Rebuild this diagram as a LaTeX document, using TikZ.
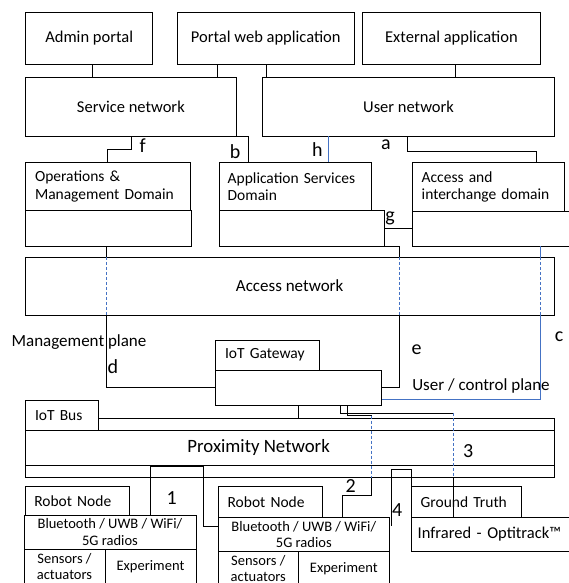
\documentclass[tikz,border=0pt]{standalone}
\usepackage{fontspec}
\setmainfont{Carlito}
\definecolor{lnblue}{RGB}{68,114,196}
\begin{document}
\begin{tikzpicture}[x=1pt,y=-1pt,
  box/.style={draw, line width=0.8pt, inner sep=0pt, align=center},
  wh/.style 2 args={minimum width=#1pt, minimum height=#2pt},
  fA/.style={font=\fontsize{16.5}{19}\selectfont},
  fN/.style={font=\fontsize{17}{19}\selectfont},
  fP/.style={font=\fontsize{18.8}{21}\selectfont},
  fB/.style={font=\fontsize{15.5}{17.5}\selectfont},
  fC/.style={font=\fontsize{14.5}{16.2}\selectfont},
  lbl/.style={font=\fontsize{20}{22}\selectfont, inner sep=0pt},
  conn/.style={line width=0.8pt},
  bconn/.style={line width=0.8pt, draw=lnblue},
  bdash/.style={line width=0.8pt, draw=lnblue, dash pattern=on 3pt off 2pt},
]
\useasboundingbox (0,0) rectangle (569,583);
\clip (0,0) rectangle (569,583);

% top row
\node[box,fA,wh={127}{51.6}] (admin) at (89.2,38.5) {Admin portal};
\node[box,fA,wh={177}{51.6}] (portal) at (265.8,38.5) {Portal web application};
\node[box,fA,wh={178.4}{51.6}] (ext) at (451.5,38.5) {External application};
\node[box,fA,wh={210.3}{58.7}] (svc) at (130.85,106.65) {Service network};
\node[box,fA,wh={291.6}{58.7}] (user) at (408.5,106.65) {User network};

% domains
\node[box,fB,align=left,inner xsep=10pt,text width=145pt,minimum height=48pt] (om) at (107.5,186.7) {Operations \&\\Management Domain};
\node[box,fB,align=left,inner xsep=8.7pt,text width=134.9pt,minimum height=48pt] (app) at (295.15,186.5) {Application Services\\Domain};
\node[box,fB,align=left,inner xsep=9.7pt,text width=132.9pt,minimum height=48.3pt] (acc) at (488.15,186.85) {Access and\\interchange domain};
\node[box,wh={166}{35.3}] (oml) at (108,228.35) {};
\node[box,wh={165}{35.7}] (appl) at (301.5,228.15) {};
\node[box,wh={163}{35}] (accl) at (493.5,228.5) {};

% access network
\node[box,fN,wh={529.3}{57.7}] (accnet) at (289.65,286.15) {Access network};

% gateway
\node[box,fB,align=left,inner xsep=9.3pt,text width=85pt,minimum height=30.3pt] (gw) at (267.5,355.15) {IoT Gateway};
\node[box,wh={166}{35}] (gwl) at (298.7,387.8) {};

% bus
\node[box,wh={529.3}{59}] (bus) at (289.65,447.8) {};
\node[box,wh={529.3}{34.3}] (prox) at (289.65,447.85) {};
\node[fP] (proxt) at ([xshift=-31pt]prox.center) {Proximity Network};
\node[box,fill=white,fB,align=left,inner xsep=10pt,text width=53.3pt,minimum height=30.7pt] (busl) at (61.65,415.35) {IoT Bus};

% robot 1
\node[box,fB,align=left,inner xsep=9.3pt,text width=85.4pt,minimum height=28.3pt] (rn1) at (77,500.85) {Robot Node};
\node[box,fC,wh={172}{34}] (rad1) at (110,532) {Bluetooth / UWB / WiFi/\\5G radios};
\node[box,fC,wh={81}{35}] (sen1) at (64.5,566.5) {Sensors /\\actuators};
\node[box,fC,wh={91}{35}] (exp1) at (150.5,566.5) {Experiment};

% robot 2
\node[box,fB,align=left,inner xsep=9.3pt,text width=85.4pt,minimum height=30.6pt] (rn2) at (270.3,502) {Robot Node};
\node[box,fC,wh={171}{34.4}] (rad2) at (303.8,534.5) {Bluetooth / UWB / WiFi/\\5G radios};
\node[box,fC,wh={80}{33}] (sen2) at (258.3,568.2) {Sensors /\\actuators};
\node[box,fC,wh={91}{33}] (exp2) at (343.8,568.2) {Experiment};

% ground truth
\node[box,fB,align=left,inner xsep=9pt,text width=92pt,minimum height=30.6pt] (gt) at (466.7,502) {Ground Truth};
\node[box,fA,align=left,inner xsep=6pt,text width=151.3pt,minimum height=34.4pt] (infra) at (493.35,534.5) {Infrared - Optitrack™};

% top connectors
\draw[conn] (admin.south -| 92.7,0) -- (svc.north -| 92.7,0);
\draw[conn] (portal.south -| 217.3,0) -- (svc.north -| 217.3,0);
\draw[conn] (portal.south -| 266.7,0) -- (user.north -| 266.7,0);
\draw[conn] (ext.south -| 455.7,0) -- (user.north -| 455.7,0);

% f, b, h, a
\draw[conn] (svc.south -| 131,0) -- (131,149) -| (om.north -| 107.3,0);
\draw[conn] (svc.south east) -| (app.north -| 248.3,0);
\draw[bconn] (user.south -| 328.3,0) -- (app.north -| 328.3,0);
\draw[conn] (user.south -| 407.7,0) -- (407.7,151.7) -| (acc.north -| 536.7,0);
% g
\draw[conn] (appl.east |- 0,228.3) -- (accl.west |- 0,228.3);

% d
\draw[conn] (oml.south -| 106.7,0) -- (accnet.north -| 106.7,0);
\draw[bdash] (accnet.north -| 106.7,0) -- (accnet.south -| 106.7,0);
\draw[conn] (accnet.south -| 106.7,0) |- (gwl.west);
% e
\draw[conn] (appl.south east) -| (accnet.north -| 399.3,0);
\draw[bdash] (accnet.north -| 399.3,0) -- (accnet.south -| 399.3,0);
\draw[conn] (accnet.south -| 399.3,0) |- (gwl.east);
% c
\draw[bconn] (accl.south -| 540.7,0) -- (accnet.north -| 540.7,0);
\draw[bdash] (accnet.north -| 540.7,0) -- (accnet.south -| 540.7,0);
\draw[bconn] (accnet.south -| 540.7,0) |- (gwl.east |- 0,399.3);

% gateway to bus
\draw[conn] (gwl.south -| 298.5,0) -- (bus.north -| 298.5,0);
% 3
\coordinate (k3) at (453.3,413.3);
\draw[conn] (gwl.south -| 340,0) |- (k3);
\draw[bdash] (k3) -- (bus.south -| 453.3,0);
\draw[conn] (bus.south -| 453.3,0) -- (infra.north -| 453.3,0);
% 2
\coordinate (k2) at (371.7,415.5);
\draw[conn] (gwl.south -| 347.3,0) |- (k2);
\draw[bdash] (k2) -- (bus.south -| 371.7,0);
\draw[conn] (bus.south -| 371.7,0) -- (371.7,495) -| (rad2.north -| 342.3,0);
% 1
\draw[conn] (rad1.north -| 150,0) |- (203.3,466.8) |- (rad2.west |- 0,526);
% 4
\coordinate (k4) at (391,525.7);
\draw[conn] (k4) |- (infra.north west |- 0,469.3) -- (infra.north west);

% labels
\node[lbl] (lf) at (142.7,146) {f};
\node[lbl] (lb) at (235,151.7) {b};
\node[lbl] (lh) at (317.3,150) {h};
\node[lbl] (la) at (386,145) {a};
\node[lbl] (lg) at (390,218) {g};
\node[lbl] (ld) at (113,367) {d};
\node[lbl] (le) at (416.7,350) {e};
\node[lbl] (lc) at (559,336.7) {c};
\node[fN] (mp) at (79,341.7) {Management plane};
\node[fN] (ucp) at (481,385.7) {User / control plane};
\node[lbl] (l1) at (171.7,498.3) {1};
\node[lbl] (l2) at (350.7,486) {2};
\node[lbl] (l3) at (468.3,450.7) {3};
\node[lbl] (l4) at (397.3,510) {4};
\end{tikzpicture}
\end{document}
